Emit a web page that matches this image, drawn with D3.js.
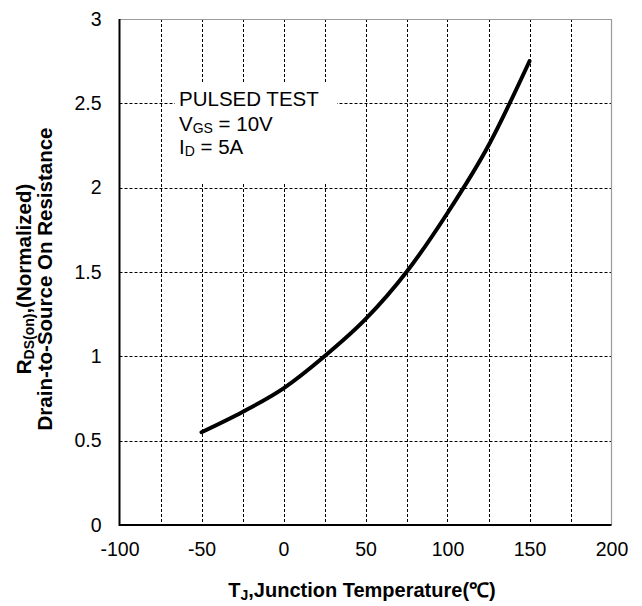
<!DOCTYPE html>
<html>
<head>
<meta charset="utf-8">
<script src="https://cdn.jsdelivr.net/npm/d3@7"></script>
<style>
  body { margin: 0; background: #fff; }
  svg { font-family: "Liberation Sans", Arial, sans-serif; }
</style>
</head>
<body>
<svg id="mainsvg"></svg>
<script>
// data
const temps = [-50, -25, 0, 25, 50, 75, 100, 125, 150];
const rdsNorm = [0.55, 0.67, 0.81, 1.0, 1.22, 1.5, 1.85, 2.25, 2.75];
const xTicks = [-100, -50, 0, 50, 100, 150, 200];
const yTicks = [0, 0.5, 1, 1.5, 2, 2.5, 3];
const xGrid = [-75, -50, -25, 0, 25, 50, 75, 100, 125, 150, 175];
const yGrid = [0.5, 1, 1.5, 2, 2.5];

const width = 642, height = 606;
const plot = { left: 119.5, right: 611.5, top: 19, bottom: 525 };

const svg = d3.select("#mainsvg")
  .attr("width", width)
  .attr("height", height)
  .attr("viewBox", [0, 0, width, height]);

const x = d3.scaleLinear([-100, 200], [plot.left, plot.right]);
const y = d3.scaleLinear([0, 3], [plot.bottom, plot.top]);

// grid
const grid = svg.append("g")
  .attr("stroke", "#000")
  .attr("stroke-width", 1)
  .attr("stroke-dasharray", "3,2");
grid.selectAll(".vx").data(xGrid).join("line")
  .attr("x1", d => Math.round(x(d)) + 0.5).attr("x2", d => Math.round(x(d)) + 0.5)
  .attr("y1", plot.top).attr("y2", plot.bottom);
grid.selectAll(".hy").data(yGrid).join("line")
  .attr("y1", d => Math.round(y(d)) + 0.5).attr("y2", d => Math.round(y(d)) + 0.5)
  .attr("x1", plot.left).attr("x2", plot.right);

// top / right frame in grey
svg.append("path")
  .attr("d", `M${plot.left},${plot.top + 0.5}H${plot.right}V${plot.bottom}`)
  .attr("fill", "none")
  .attr("stroke", "#9a9a9a")
  .attr("stroke-width", 1.2);

// legend box (covers grid)
svg.append("rect")
  .attr("x", 175).attr("y", 82)
  .attr("width", 162).attr("height", 102)
  .attr("fill", "#fff");

const note = svg.append("g")
  .attr("font-size", "20.5px")
  .attr("fill", "#000");
note.append("text").attr("x", 179).attr("y", 106).text("PULSED TEST");
const vgs = note.append("text").attr("x", 179).attr("y", 130.5);
vgs.append("tspan").text("V");
vgs.append("tspan").attr("font-size", "14px").attr("dy", 2).text("GS");
vgs.append("tspan").attr("dy", -2).text(" = 10V");
const id = note.append("text").attr("x", 179).attr("y", 154);
id.append("tspan").text("I");
id.append("tspan").attr("font-size", "14px").attr("dy", 2).text("D");
id.append("tspan").attr("dy", -2).text(" = 5A");

// curve
const line = d3.line()
  .x((d, i) => x(temps[i]))
  .y(d => y(d))
  .curve(d3.curveMonotoneX);
svg.append("path")
  .datum(rdsNorm)
  .attr("d", line)
  .attr("fill", "none")
  .attr("stroke", "#000")
  .attr("stroke-width", 4)
  .attr("stroke-linecap", "round");

// axes lines (left / bottom)
svg.append("path")
  .attr("d", `M${plot.left},${plot.top}V${plot.bottom}H${plot.right}`)
  .attr("fill", "none")
  .attr("stroke", "#000")
  .attr("stroke-width", 2);

// tick labels (plain hyphen for negatives, like the original)
const fmt = d => String(d);
const xAxis = svg.append("g")
  .attr("transform", `translate(0,${plot.bottom})`)
  .call(d3.axisBottom(x).tickValues(xTicks).tickSize(0).tickPadding(17).tickFormat(fmt));
const yAxis = svg.append("g")
  .attr("transform", `translate(${plot.left},0)`)
  .call(d3.axisLeft(y).tickValues(yTicks).tickSize(0).tickPadding(18).tickFormat(fmt));
[xAxis, yAxis].forEach(a => {
  a.select(".domain").remove();
  a.selectAll("text")
    .attr("font-family", "'Liberation Sans', Arial, sans-serif")
    .attr("font-size", "19.5px")
    .attr("fill", "#000");
});

// axis titles
const xt = svg.append("text")
  .attr("x", 362).attr("y", 597)
  .attr("text-anchor", "middle")
  .attr("font-size", "20px")
  .attr("font-weight", "bold");
xt.append("tspan").text("T");
xt.append("tspan").attr("font-size", "14px").attr("dy", 3).text("J");
xt.append("tspan").attr("dy", -3).text(",Junction Temperature(℃)");

const yt = svg.append("g")
  .attr("transform", "translate(0,279) rotate(-90)")
  .attr("text-anchor", "middle")
  .attr("font-size", "20.5px")
  .attr("font-weight", "bold");
const yt1 = yt.append("text").attr("x", 0).attr("y", 31);
yt1.append("tspan").text("R");
yt1.append("tspan").attr("font-size", "14px").attr("dy", 3).text("DS(on)");
yt1.append("tspan").attr("dy", -3).text(",(Normalized)");
yt.append("text").attr("x", 0).attr("y", 52).text("Drain-to-Source On Resistance");
</script>
</body>
</html>
